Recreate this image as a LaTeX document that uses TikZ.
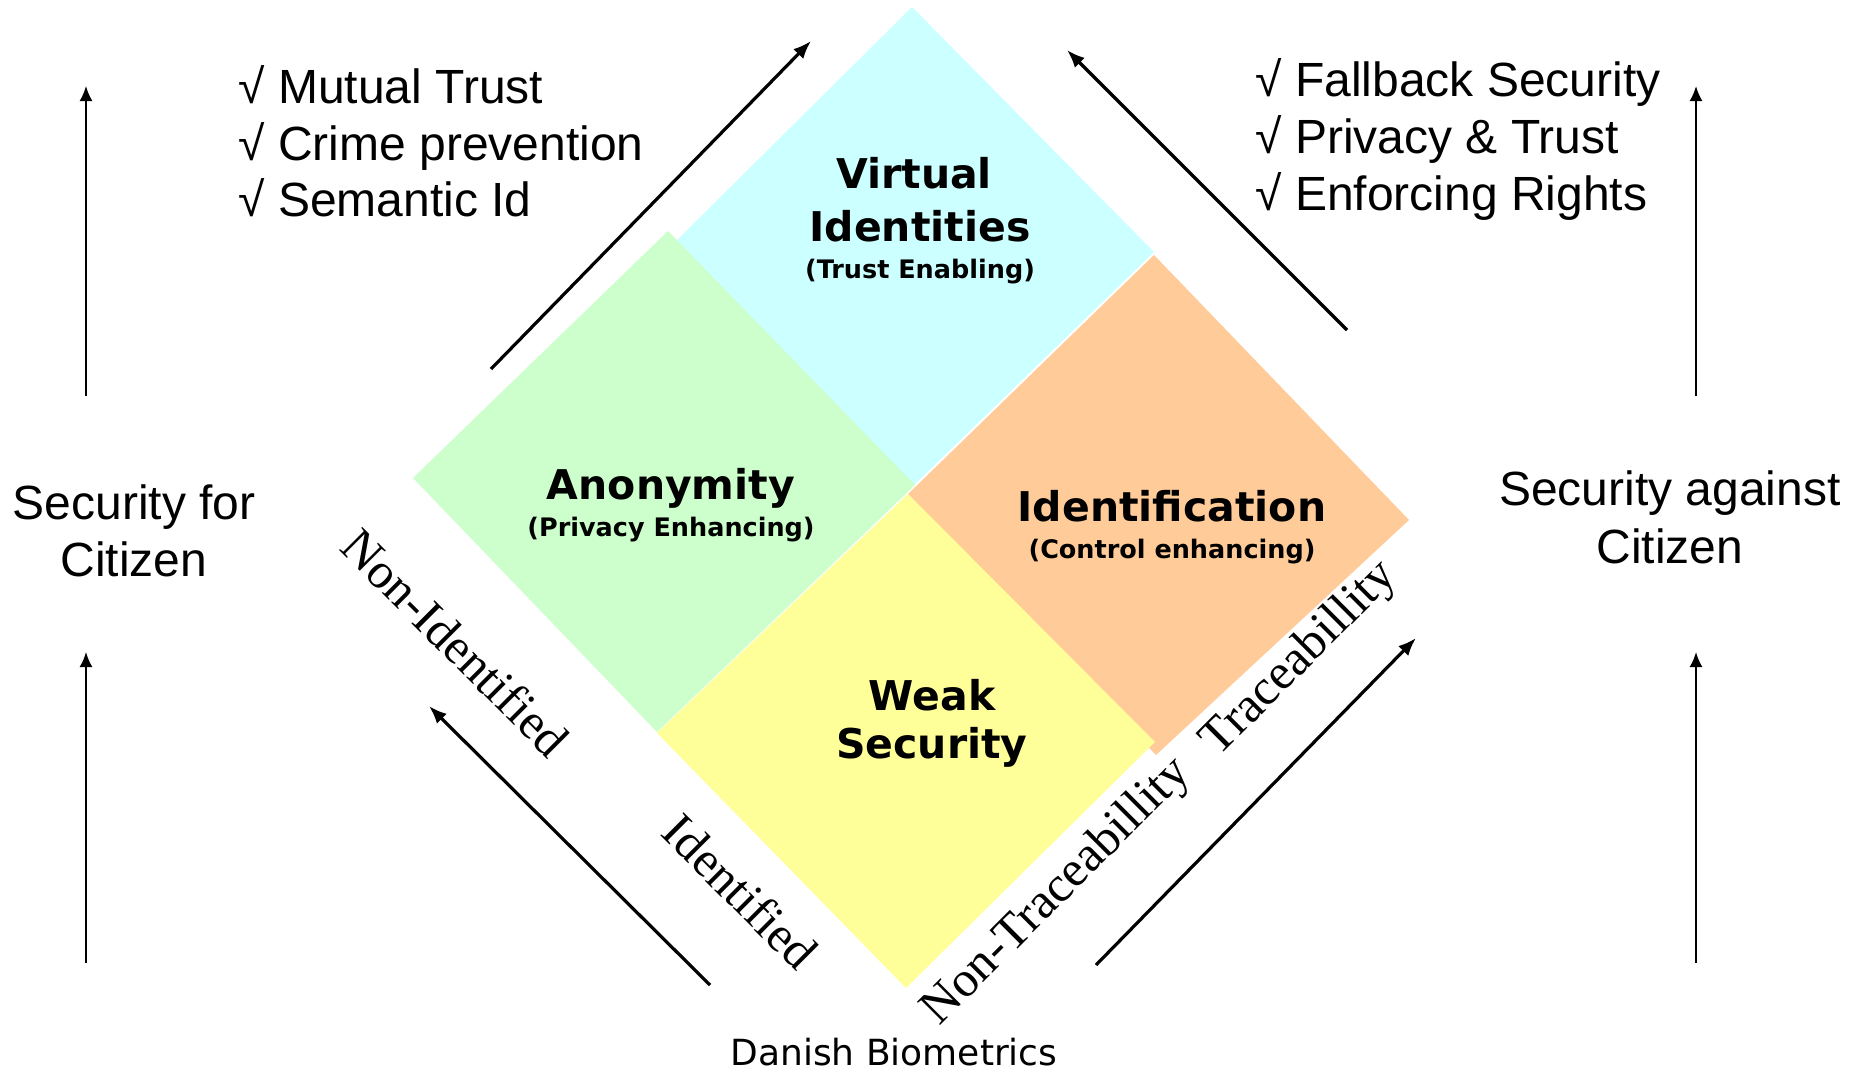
\documentclass[tikz,border=0pt]{standalone}
\usepackage{fontspec}
\setmainfont{Liberation Sans}
\newfontfamily\verdanafont{DejaVu Sans}
\newfontfamily\timesfont{Liberation Serif}
\usetikzlibrary{arrows.meta}
\usetikzlibrary{positioning}

\definecolor{virtualcol}{HTML}{CCFFFF}
\definecolor{anoncol}{HTML}{CCFFCC}
\definecolor{weakcol}{HTML}{FFFF99}
\definecolor{identcol}{HTML}{FFCC99}

\tikzset{
  side/.style={font=\fontsize{24}{28}\selectfont, inner sep=0pt, text height=17.2pt, text depth=0pt},
  quad/.style={font=\verdanafont\bfseries\fontsize{20.5}{24}\selectfont, inner sep=0pt, text height=15pt, text depth=0pt},
  quadsub/.style={font=\verdanafont\bfseries\fontsize{12.75}{15}\selectfont, inner sep=0pt, text height=9.3pt, text depth=0pt},
  axislbl/.style={font=\timesfont\fontsize{25}{29}\selectfont, inner sep=0pt, text height=16.5pt, text depth=0pt},
  credit/.style={font=\verdanafont\fontsize{18}{22}\selectfont, inner sep=0pt, text height=13pt, text depth=0pt},
  thinarrow/.style={-{Latex[length=7.5pt,width=6.5pt]}, line width=1pt},
  thickarrow/.style={-{Latex[length=9pt,width=7pt]}, line width=1.6pt},
}

\begin{document}
\begin{tikzpicture}[x=0.5pt,y=-0.5pt,on grid]
  \fill[white] (0,0) rectangle (1865,1072);
  \useasboundingbox (0,0) rectangle (1865,1072);

  % the four quadrants
  \fill[virtualcol] (912,7) -- (1154,252) -- (912,487) -- (670,247) -- cycle;
  \fill[identcol] (1154,255) -- (1409,520) -- (1156,755) -- (908,494) -- cycle;
  \fill[anoncol] (668,231) -- (915,485) -- (657,732) -- (413,478) -- cycle;
  \fill[weakcol] (908,494) -- (1155,742) -- (906,988) -- (657,733) -- cycle;

  \node[quad] (virt1) at (914,173) {Virtual};
  \node[quad] (virt2) at (920,226) {Identities};
  \node[quadsub] (virtsub) [below=21.5pt of virt2] {(Trust Enabling)};

  \node[quad] (anon) at (671,484) {Anonymity};
  \node[quadsub] (anonsub) [below=21.5pt of anon] {(Privacy Enhancing)};

  \node[quad] (ident) at (1172,506) {Identification};
  \node[quadsub] (identsub) [below=21.5pt of ident] {(Control enhancing)};

  \node[quad] (weak1) at (932,695) {Weak};
  \node[quad] (weak2) [below=24pt of weak1] {Security};

  % axis labels along the diamond
  \node[axislbl, rotate=-45] (nonid) at (455,643) {Non-Identified};
  \node[axislbl, rotate=-45] (idfd) at (740,892) {Identified};
  \node[axislbl, rotate=45] (nontrace) at (1054,889) {Non-Traceabillity};
  \node[axislbl, rotate=45] (trace) at (1297,656) {Traceabillity};

  \node[credit] (danish) at (894,1052) {Danish Biometrics};

  % side texts
  \node[side] (secfor) at (134,502) {Security for};
  \node[side] (citfor) [below=28.5pt of secfor] {Citizen};
  \node[side] (secagainst) at (1670,488) {Security against};
  \node[side] (citagainst) [below=29pt of secagainst] {Citizen};

  \node[side, anchor=west] (mutual) at (238,86) {√ Mutual Trust};
  \node[side, below=28.75pt of mutual.west, anchor=west] (crime) {√ Crime prevention};
  \node[side, below=28pt of crime.west, anchor=west] (semantic) {√ Semantic Id};

  \node[side, anchor=west] (fallback) at (1255,79) {√ Fallback Security};
  \node[side, below=28.5pt of fallback.west, anchor=west] (privtrust) {√ Privacy \& Trust};
  \node[side, below=28.5pt of privtrust.west, anchor=west] (rights) {√ Enforcing Rights};

  % arrow ends
  \coordinate (lupa) at (86,396);   \coordinate (lupb) at (86,86);
  \coordinate (ldna) at (86,963);   \coordinate (ldnb) at (86,652);
  \coordinate (rupa) at (1696,396); \coordinate (rupb) at (1696,86);
  \coordinate (rdna) at (1696,963); \coordinate (rdnb) at (1696,652);
  \coordinate (ula) at (491,369);   \coordinate (ulb) at (811,41);
  \coordinate (ura) at (1347,330);  \coordinate (urb) at (1067,50);
  \coordinate (lla) at (710,985);   \coordinate (llb) at (429,706);
  \coordinate (lra) at (1096,965);  \coordinate (lrb) at (1416,638);

  \draw[thinarrow] (lupa) -- (lupb);
  \draw[thinarrow] (ldna) -- (ldnb);
  \draw[thinarrow] (rupa) -- (rupb);
  \draw[thinarrow] (rdna) -- (rdnb);
  \draw[thickarrow] (ula) -- (ulb);
  \draw[thickarrow] (ura) -- (urb);
  \draw[thickarrow] (lla) -- (llb);
  \draw[thickarrow] (lra) -- (lrb);
\end{tikzpicture}
\end{document}
